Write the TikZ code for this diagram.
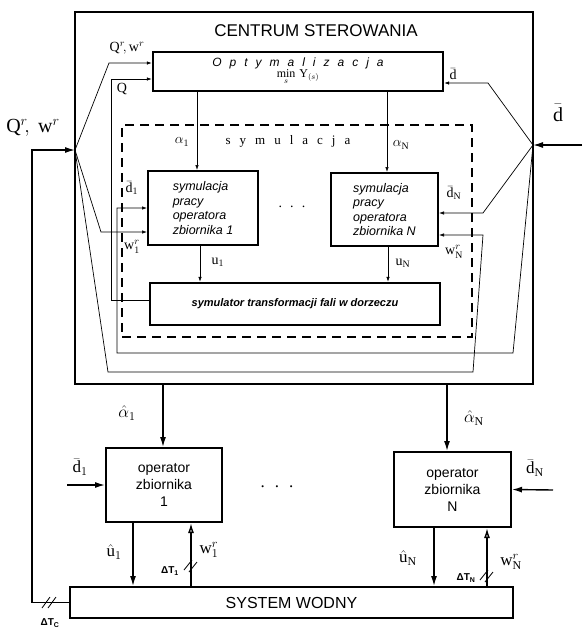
\RequirePackage{fix-cm}
\documentclass[tikz,border=0pt]{standalone}
\usepackage{fontspec}
\setmainfont{Liberation Serif}
\newfontfamily\helv{Liberation Sans}
\usetikzlibrary{positioning,arrows.meta}

\begin{document}
\begin{tikzpicture}[x=1pt,y=-1pt,>=Latex,
			box/.style={draw, line width=2pt, inner sep=0pt},
			simbox/.style={box, minimum height=74pt, align=left,
				font=\helv\itshape\fontsize{12.5}{14.5}\selectfont},
			opbox/.style={box, minimum width=116pt, minimum height=74pt, align=center,
				font=\helv\fontsize{14}{17}\selectfont},
			lab/.style={inner sep=0pt, font=\fontsize{14}{14}\selectfont},
			biglab/.style={inner sep=0pt, font=\fontsize{17}{17}\selectfont},
			dtlab/.style={inner sep=0pt, font=\helv\bfseries\fontsize{10}{10}\selectfont},
			sig/.style={line width=0.7pt, -{Latex[length=5pt,width=3.5pt]}},
			bigsig/.style={line width=1.4pt, -{Latex[length=10pt,width=6pt]}},
			wsig/.style={line width=1.4pt, -{Latex[open,length=10pt,width=6pt]}},
			dslash/.style={line width=0.8pt}]
			
			\useasboundingbox (0,0) rectangle (582,630);
			
			% centrum sterowania
			\node (centrum)[box, line width=2.6pt, minimum width=458pt, minimum height=372pt] at (304,198){};
			
			\node (title)[font=\helv\fontsize{17}{17}\selectfont] at (316,31){CENTRUM STEROWANIA};
			
			\node (opt)[box, line width=2.4pt, minimum width=290pt, minimum height=39pt, align=center] at (298,71.5)
				{{\helv\itshape\fontsize{12}{12}\selectfont\spaceskip=8pt O p t y m a l i z a c j a}\\[-1pt]
				{\fontsize{12}{12}\selectfont $\min\limits_{s}\,\mathrm{Y}_{(s)}$}};
			
			\node (symbox)[draw, line width=2pt, dash pattern=on 9pt off 6pt, minimum width=350pt, minimum height=212pt] at (297,231){};
			
			\node (symlab)[font=\fontsize{13}{13}\selectfont] at (288,141){\spaceskip=9pt s y m u l a c j a};
			
			\node (sim1)[simbox, minimum width=110pt] at (203,208){symulacja\\pracy\\operatora\\zbiornika 1};
			
			\node (simN)[simbox, minimum width=107pt, minimum height=73pt] at (384.5,209.5){symulacja\\pracy\\operatora\\zbiornika N};
			
			\node (dots1)[lab] at (292,207){. \ . \ .};
			
			\node (symul)[box, line width=2.4pt, minimum width=290pt, minimum height=42pt,
				font=\helv\bfseries\itshape\fontsize{11}{11}\selectfont] at (295,304){symulator transformacji fali w dorzeczu};
			
			% obiekt
			\node (op1)[opbox] at (164,485){operator\\zbiornika\\1};
			
			\node (opN)[opbox, minimum width=117pt, minimum height=75pt] at (452.5,489.5){operator\\zbiornika\\N};
			
			\node (dots2)[biglab] at (277,487){. \ . \ .};
			
			\node (sys)[box, minimum width=443pt, minimum height=31pt, font=\helv\fontsize{16}{16}\selectfont] at (291.5,602.5){SYSTEM WODNY};
			
			\coordinate (jl) at (75,150);
			\coordinate (jr) at (533,145);
			\coordinate (din) at (582,145);
			\coordinate (d1in) at (67,485);
			\coordinate (dNin) at (553,490);
			
			% sygnaly wewnatrz
			\draw[sig](jl)--(109,63)--(opt.west |- 0,63);
			
			\draw[sig](symul.west |- 0,300)--(111,300)--(111,79)--(opt.west |- 0,79);
			
			\draw[sig](jr)--(488,83)--(opt.east |- 0,83);
			
			\draw[sig](opt.south -| 197,0)--(sim1.north -| 197,0);
			
			\draw[sig](opt.south -| 387,0)--(simN.north -| 387,0);
			
			\draw[sig](jl)--(101,232)--(sim1.west |- 0,232);
			
			\draw[sig](jr)--(513,353)--(117,353)--(117,208)--(sim1.west |- 0,208);
			
			\draw[sig](jr)--(483,213)--(simN.east |- 0,213);
			
			\draw[sig](jl)--(108,372)--(473,372)--(483,235)--(simN.east |- 0,235);
			
			\draw[sig](sim1.south -| 200,0)--(symul.north -| 200,0);
			
			\draw[sig](simN.south -| 388,0)--(symul.north -| 388,0);
			
			% sygnaly zewnetrzne
			\draw[bigsig](din)--(jr);
			
			\draw[bigsig](sys.west)--(32,602.5)--(32,150)--(jl);
			
			\draw[bigsig](centrum.south -| 163,0)--(op1.north -| 163,0);
			
			\draw[bigsig](centrum.south -| 447,0)--(opN.north -| 447,0);
			
			\draw[bigsig](d1in)--(op1.west);
			
			\draw[bigsig](dNin)--(opN.east);
			
			\draw[bigsig](op1.south -| 133,0)--(sys.north -| 133,0);
			
			\draw[bigsig](opN.south -| 434,0)--(sys.north -| 434,0);
			
			\draw[wsig](sys.north -| 191,0)--(op1.south -| 191,0);
			
			\draw[wsig](sys.north -| 487,0)--(opN.south -| 487,0);
			
			\draw[dslash](184,570)--(192,560) (189,572)--(197,562);
			
			\draw[dslash](480,580)--(488,570) (485,582)--(493,572);
			
			\draw[dslash](42,608)--(50,597) (48,608)--(56,597);
			
			% opisy
			\node (lqwout)[inner sep=0pt, font=\fontsize{20}{20}\selectfont] at (33,128){$\mathrm{Q}^{r}\!,\ \mathrm{w}^{r}$};
			
			\node (ldout)[inner sep=0pt, font=\fontsize{20}{20}\selectfont] at (558,113){$\bar{\mathrm{d}}$};
			
			\node (lqw)[lab] at (127,48){$\mathrm{Q}^{r}\!,\mathrm{w}^{r}$};
			
			\node (lq)[lab] at (122,89){Q};
			
			\node (ldopt)[lab] at (453,74){$\bar{\mathrm{d}}$};
			
			\node (la1)[lab] at (182,142){$\alpha_{1}$};
			
			\node (laN)[lab] at (401,145){$\alpha_{\mathrm{N}}$};
			
			\node (ld1)[lab] at (132,188){$\bar{\mathrm{d}}_{1}$};
			
			\node (lw1)[lab] at (132,247){$\mathrm{w}^{r}_{1}$};
			
			\node (ldN)[lab] at (454,193){$\bar{\mathrm{d}}_{\mathrm{N}}$};
			
			\node (lwN)[lab] at (454,252){$\mathrm{w}^{r}_{\mathrm{N}}$};
			
			\node (lu1)[lab] at (218,262){$\mathrm{u}_{1}$};
			
			\node (luN)[lab] at (403,263){$\mathrm{u}_{\mathrm{N}}$};
			
			\node (lah1)[biglab] at (127,413){$\hat{\alpha}_{1}$};
			
			\node (lahN)[biglab] at (474,418){$\hat{\alpha}_{\mathrm{N}}$};
			
			\node (ldo1)[biglab] at (80,467){$\bar{\mathrm{d}}_{1}$};
			
			\node (ldoN)[biglab] at (535,468){$\bar{\mathrm{d}}_{\mathrm{N}}$};
			
			\node (luh1)[biglab] at (114,552){$\hat{\mathrm{u}}_{1}$};
			
			\node (luhN)[biglab] at (408,558){$\hat{\mathrm{u}}_{\mathrm{N}}$};
			
			\node (lwo1)[biglab] at (209,550){$\mathrm{w}^{r}_{1}$};
			
			\node (lwoN)[biglab] at (511,562){$\mathrm{w}^{r}_{\mathrm{N}}$};
			
			\node (lt1)[dtlab] at (170,571){ΔT\textsubscript{1}};
			
			\node (ltN)[dtlab] at (466,578){ΔT\textsubscript{N}};
			
			\node (ltC)[dtlab] at (50,623){ΔT\textsubscript{C}};
			
		\end{tikzpicture}
\end{document}
